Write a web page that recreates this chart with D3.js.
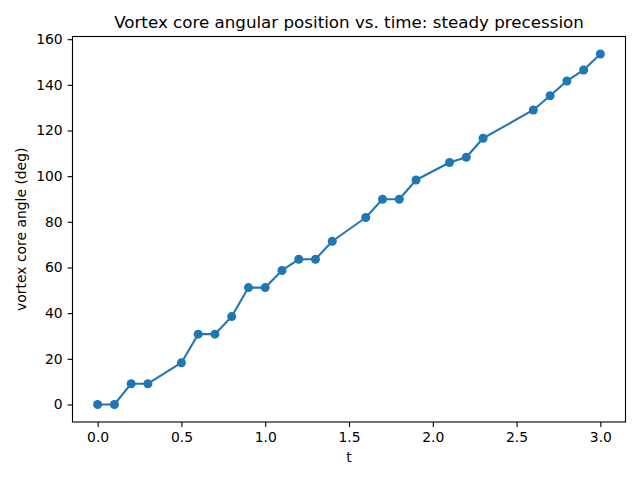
<!DOCTYPE html>
<html lang="en">
<head>
  <meta charset="UTF-8">
  <title>Vortex core angular position vs. time</title>
  <style>
    body { margin: 0; background: #fff; }
    svg { display: block; font-family: 'DejaVu Sans', sans-serif; }
  </style>
</head>
<body>
  <svg id="chart" width="640" height="480"></svg>
  <script src="https://d3js.org/d3.v7.min.js"></script>
  <script>
    const times = [0, 0.1, 0.2, 0.3, 0.5, 0.6, 0.7, 0.8, 0.9, 1.0, 1.1, 1.2, 1.3,
                   1.4, 1.6, 1.7, 1.8, 1.9, 2.1, 2.2, 2.3, 2.6, 2.7, 2.8, 2.9, 3.0];
    const angles = [0, 0, 9.1, 9.1, 18.3, 30.8, 30.8, 38.5, 51.2, 51.2, 58.7, 63.6, 63.6,
                    71.5, 81.9, 89.9, 89.9, 98.3, 106.0, 108.3, 116.6, 129.0, 135.2, 141.7, 146.5, 153.5];
    const xTicks = [0, 0.5, 1.0, 1.5, 2.0, 2.5, 3.0];
    const yTicks = [0, 20, 40, 60, 80, 100, 120, 140, 160];

    const data = times.map((t, i) => ({ t: t, a: angles[i] }));

    const svg = d3.select('#chart');
    const plotL = 72.5, plotR = 625.5, plotT = 36.5, plotB = 422;

    // matplotlib style 5% padding on both axes
    const xPad = (d3.max(times) - d3.min(times)) * 0.05;
    const yPad = (d3.max(angles) - d3.min(angles)) * 0.05;
    const x = d3.scaleLinear()
      .domain([d3.min(times) - xPad, d3.max(times) + xPad])
      .range([plotL, plotR]);
    const y = d3.scaleLinear()
      .domain([d3.min(angles) - yPad, d3.max(angles) + yPad])
      .range([plotB, plotT]);

    const fontSize = '13.9px';

    // x axis
    const gx = svg.append('g')
      .attr('transform', `translate(0,${plotB})`)
      .call(d3.axisBottom(x).tickValues(xTicks).tickFormat(d3.format('.1f'))
        .tickSizeInner(4.9).tickSizeOuter(0).tickPadding(4.9));
    gx.select('.domain').remove();
    gx.selectAll('line').attr('stroke', '#000').attr('stroke-width', 1.1);
    gx.selectAll('text').attr('font-size', fontSize).attr('fill', '#000')
      .attr('font-family', "'DejaVu Sans', sans-serif");

    // y axis
    const gy = svg.append('g')
      .attr('transform', `translate(${plotL},0)`)
      .call(d3.axisLeft(y).tickValues(yTicks).tickFormat(d3.format('d'))
        .tickSizeInner(4.9).tickSizeOuter(0).tickPadding(4.9));
    gy.select('.domain').remove();
    gy.selectAll('line').attr('stroke', '#000').attr('stroke-width', 1.1);
    gy.selectAll('text').attr('font-size', fontSize).attr('fill', '#000')
      .attr('font-family', "'DejaVu Sans', sans-serif");

    // frame
    svg.append('rect')
      .attr('x', plotL).attr('y', plotT)
      .attr('width', plotR - plotL).attr('height', plotB - plotT)
      .attr('fill', 'none').attr('stroke', '#000').attr('stroke-width', 1.1);

    // line + markers
    const line = d3.line().x(d => x(d.t)).y(d => y(d.a));
    svg.append('path')
      .datum(data)
      .attr('d', line)
      .attr('fill', 'none')
      .attr('stroke', '#1f77b4')
      .attr('stroke-width', 2.1)
      .attr('stroke-linejoin', 'round')
      .attr('stroke-linecap', 'square');

    svg.selectAll('.pt')
      .data(data)
      .enter().append('circle')
      .attr('class', 'pt')
      .attr('cx', d => x(d.t))
      .attr('cy', d => y(d.a))
      .attr('r', 4.5)
      .attr('fill', '#1f77b4');

    // labels
    svg.append('text')
      .attr('x', (plotL + plotR) / 2)
      .attr('y', 28)
      .attr('text-anchor', 'middle')
      .attr('font-size', '16.7px')
      .text('Vortex core angular position vs. time: steady precession');

    svg.append('text')
      .attr('x', (plotL + plotR) / 2)
      .attr('y', 462)
      .attr('text-anchor', 'middle')
      .attr('font-size', fontSize)
      .text('t');

    svg.append('text')
      .attr('transform', `translate(26,${(plotT + plotB) / 2}) rotate(-90)`)
      .attr('text-anchor', 'middle')
      .attr('font-size', fontSize)
      .text('vortex core angle (deg)');
  </script>
</body>
</html>
